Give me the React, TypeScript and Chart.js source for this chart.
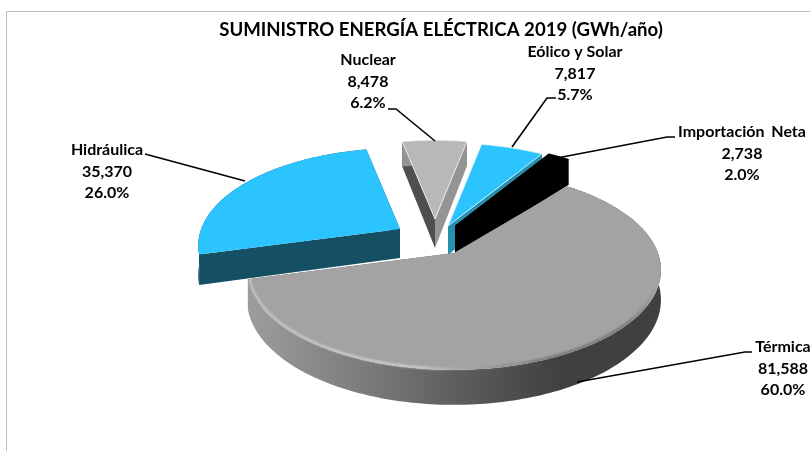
import React, { useEffect, useRef } from "react";
import { Chart, registerables } from "chart.js";

Chart.register(...registerables);

const chartTitle = "SUMINISTRO ENERGÍA ELÉCTRICA 2019 (GWh/año)";
const categories = ["Hidráulica", "Nuclear", "Eólico y Solar", "Importación Neta", "Térmica"];
const supplyGWh = [35370, 8478, 7817, 2738, 81588];
const percentLabels = ["26.0%", "6.2%", "5.7%", "2.0%", "60.0%"];
const valueLabels = ["35,370", "8,478", "7,817", "2,738", "81,588"];

const topColors = ["#2BC4FF", "#B8B8B8", "#2BC4FF", "#000000", "#A3A3A3"];
const startWallColors = ["#144F63", "#4F4F4F", "#2790AE", "#000000", "#5A5A5A"];
const endWallColors = ["#144F63", "#949494", "#2790AE", "#000000", "#5A5A5A"];
const explode = [[-54, -24], [-19, -34], [-6, -27], [1, -27], [0, 0]];
const sliceScale = [0.975, 0.95, 1, 1, 1];
const labelCenters = [[107, 150], [368, 60], [575, 52], [742, 132], [783, 347]];
const labelWordSpacing = ["0px", "0px", "0px", "3px", "0px"];
const leaders = [
  [[145, 154], [245, 181]],
  [[388, 109], [396, 109], [435, 141]],
  [[556, 98], [547, 98], [512, 147]],
  [[675, 137], [667, 137], [557, 158]],
  [[752, 352], [745, 352], [577, 382]],
];

const CENTER_SHIFT = 13;
const SX = 1.03;
const SY = 0.49;
const PERSP = 0.17;
const DEPTH = 29;

const pie3d = {
  id: "pie3d",
  beforeDraw(chart: any) {
    const { ctx, width, height } = chart;
    ctx.save();
    ctx.fillStyle = "#FFFFFF";
    ctx.fillRect(0, 0, width, height);
    ctx.strokeStyle = "#BFBFBF";
    ctx.lineWidth = 1;
    ctx.beginPath();
    ctx.moveTo(6.5, height);
    ctx.lineTo(6.5, 11.5);
    ctx.lineTo(width, 11.5);
    ctx.stroke();
    ctx.restore();
  },
  beforeDatasetDraw(chart: any) {
    const { ctx } = chart;
    const arcs = chart.getDatasetMeta(0).data;
    arcs.forEach((arc: any, i: number) => {
      const { x, y, startAngle, endAngle, outerRadius } = arc.getProps(["x", "y", "startAngle", "endAngle", "outerRadius"]);
      const [ex, ey] = explode[i];
      const R = outerRadius * sliceScale[i];
      const project = (theta: number, rho: number, z: number) => {
        const u = Math.cos(theta) * rho;
        const v = Math.sin(theta) * rho;
        const w = 1 - PERSP * v;
        return [
          x + CENTER_SHIFT + ex + (SX * R * u) / w,
          y + ey + (SY * R * v) / w + (z * DEPTH) / w,
        ];
      };
      const steps = Math.max(2, Math.ceil((endAngle - startAngle) / 0.02));
      const arcAngles: number[] = [];
      for (let s = 0; s <= steps; s++) arcAngles.push(startAngle + ((endAngle - startAngle) * s) / steps);

      const poly = (pts: number[][], fill: any, stroke?: string) => {
        ctx.beginPath();
        pts.forEach((p, k) => (k ? ctx.lineTo(p[0], p[1]) : ctx.moveTo(p[0], p[1])));
        ctx.closePath();
        ctx.fillStyle = fill;
        ctx.fill();
        if (stroke) {
          ctx.strokeStyle = stroke;
          ctx.lineWidth = 1;
          ctx.stroke();
        }
      };

      ctx.save();
      ctx.lineJoin = "round";
      const edge = i === 0 || i === 4 ? "rgba(255,255,255,0)" : i === 3 ? "#000000" : "rgba(255,255,255,0.75)";
      const outer = arcAngles.map((a) => project(a, 1, 0));
      const outerLow = arcAngles.map((a) => project(a, 1, 1)).reverse();
      let wallFill: any = endWallColors[i];
      if (i === 4) {
        const g = ctx.createLinearGradient(x + CENTER_SHIFT - SX * R, 0, x + CENTER_SHIFT + SX * R, 0);
        g.addColorStop(0, "#9C9C9C");
        g.addColorStop(0.24, "#808080");
        g.addColorStop(0.5, "#5F5F5F");
        g.addColorStop(0.76, "#404040");
        g.addColorStop(1, "#404040");
        wallFill = g;
      }
      poly([project(0, 0, 0), project(startAngle, 1, 0), project(startAngle, 1, 1), project(0, 0, 1)], startWallColors[i]);
      poly([project(0, 0, 0), project(endAngle, 1, 0), project(endAngle, 1, 1), project(0, 0, 1)], endWallColors[i]);
      poly([...outer, ...outerLow], wallFill);
      poly([project(0, 0, 0), ...outer], topColors[i], edge);

      if (i === 4) {
        const g = ctx.createLinearGradient(x + CENTER_SHIFT - SX * R, 0, x + CENTER_SHIFT + SX * R, 0);
        g.addColorStop(0, "rgba(225,225,225,0.75)");
        g.addColorStop(0.42, "rgba(235,235,235,0.85)");
        g.addColorStop(0.56, "rgba(150,150,150,0.4)");
        g.addColorStop(0.72, "rgba(60,60,60,0.6)");
        g.addColorStop(0.92, "rgba(60,60,60,0.6)");
        g.addColorStop(1, "rgba(70,70,70,0)");
        ctx.filter = "blur(1px)";
        ctx.strokeStyle = g;
        ctx.lineWidth = 1.8;
        ctx.beginPath();
        let started = false;
        arcAngles.forEach((a) => {
          if (a < startAngle + 0.95) return;
          const p = project(a, 0.993, 0);
          if (started) ctx.lineTo(p[0], p[1]);
          else ctx.moveTo(p[0], p[1]);
          started = true;
        });
        ctx.stroke();
        ctx.filter = "none";
      }
      ctx.restore();
    });
    return false;
  },
  afterDraw(chart: any) {
    const { ctx } = chart;
    ctx.save();
    ctx.strokeStyle = "#000000";
    ctx.lineWidth = 1.6;
    leaders.forEach((line) => {
      ctx.beginPath();
      line.forEach((p, k) => (k ? ctx.lineTo(p[0], p[1]) : ctx.moveTo(p[0], p[1])));
      ctx.stroke();
    });
    ctx.fillStyle = "#000000";
    ctx.font = "bold 16px Lato";
    ctx.textAlign = "center";
    ctx.textBaseline = "middle";
    categories.forEach((name, i) => {
      const [lx, ly] = labelCenters[i];
      (ctx as any).wordSpacing = labelWordSpacing[i];
      ctx.fillText(name, lx, ly);
      ctx.fillText(valueLabels[i], lx, ly + 21.5);
      ctx.fillText(percentLabels[i], lx, ly + 43);
    });
    ctx.restore();
  },
};

export default function App() {
  const ref = useRef<HTMLCanvasElement>(null);
  useEffect(() => {
    const chart = new Chart(ref.current as HTMLCanvasElement, {
      type: "pie",
      data: {
        labels: categories,
        datasets: [{ data: supplyGWh, backgroundColor: topColors, borderWidth: 0 }],
      },
      options: {
        responsive: false,
        animation: false,
        rotation: 255,
        layout: { padding: { left: 72, top: 0, right: 0, bottom: 0 } },
        plugins: {
          legend: { display: false },
          tooltip: { enabled: false },
          title: {
            display: true,
            text: chartTitle,
            color: "#000000",
            font: { family: "Lato", size: 18.6, weight: "bold", lineHeight: 1.2 },
            padding: { top: 19, bottom: 13.68 },
          },
        },
      },
      plugins: [pie3d],
    } as any);
    return () => chart.destroy();
  }, []);
  return (
    <div style={{ position: "absolute", left: 0, top: 0, width: 810, height: 451, overflow: "hidden" }}>
      <canvas ref={ref} width={810} height={451} style={{ display: "block" }} />
    </div>
  );
}
